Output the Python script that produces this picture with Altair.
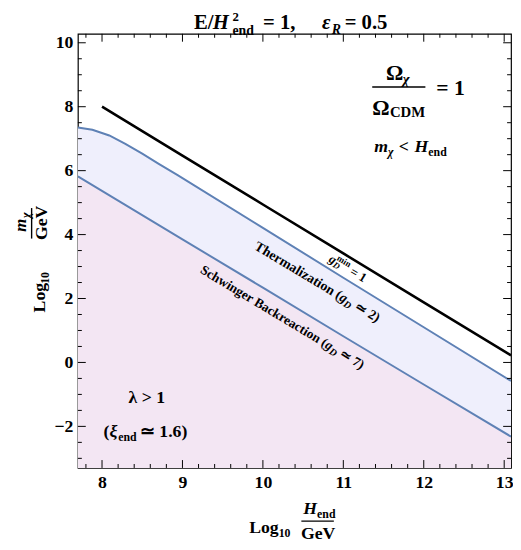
import math
import altair as alt
import pandas as pd

# ---------------- data ----------------
black_x = [8.0, 9.0, 10.0, 11.0, 12.0, 13.085]
black_y = [8.0, 6.47, 4.94, 3.41, 1.88, 0.22]

therm_x = [7.7, 7.88, 8.09, 8.29, 8.5, 8.7, 8.94, 10.0, 11.0, 12.0, 13.085]
therm_y = [7.35, 7.28, 7.10, 6.84, 6.53, 6.22, 5.86, 4.21, 2.65, 1.10, -0.58]

schw_x = [7.7, 9.0, 10.0, 11.0, 12.0, 13.085]
schw_y = [5.82, 3.85, 2.34, 0.82, -0.69, -2.32]

x_major = [8, 9, 10, 11, 12, 13]
y_major = [-2, 0, 2, 4, 6, 8, 10]
x_minor = [v for v in [round(7.8 + 0.2 * i, 2) for i in range(27)] if abs(v - round(v)) > 1e-6]
y_minor = [v for v in [-3.0 + 0.5 * i for i in range(27)] if v % 2 != 0]

X_DOM = [7.7, 13.085]
Y_DOM = [-3.3, 10.28]

# ---------------- layout ----------------
W, H = 440, 441
OX, OY = 79, 30          # page position of plot origin
SERIF = "Liberation Serif"
BLUE = "#5e81b5"

xs = alt.Scale(domain=X_DOM, nice=False, zero=False)
ys = alt.Scale(domain=Y_DOM, nice=False, zero=False)

x_axis = alt.Axis(values=x_major, ticks=False, domain=False, grid=False, title=None,
                  labelFont=SERIF, labelFontWeight="bold", labelFontSize=18,
                  labelPadding=6, labelColor="black", format="d")
y_axis = alt.Axis(values=y_major, ticks=False, domain=False, grid=False, title=None,
                  labelFont=SERIF, labelFontWeight="bold", labelFontSize=18,
                  labelPadding=5, labelColor="black", format="d")

df_black = pd.DataFrame({"x": black_x, "y": black_y})
df_therm = pd.DataFrame({"x": therm_x, "y": therm_y})
df_schw = pd.DataFrame({"x": schw_x, "y": schw_y})

area_therm = alt.Chart(df_therm).mark_area(color="#efeffc", clip=True).encode(
    x=alt.X("x:Q", scale=xs, axis=x_axis), y=alt.Y("y:Q", scale=ys, axis=y_axis),
    y2=alt.datum(Y_DOM[0]))
area_schw = alt.Chart(df_schw).mark_area(color="#f3e6f3", clip=True).encode(
    x=alt.X("x:Q", scale=xs), y=alt.Y("y:Q", scale=ys), y2=alt.datum(Y_DOM[0]))
line_therm = alt.Chart(df_therm).mark_line(color=BLUE, strokeWidth=2, clip=True).encode(
    x=alt.X("x:Q", scale=xs), y=alt.Y("y:Q", scale=ys))
line_schw = alt.Chart(df_schw).mark_line(color=BLUE, strokeWidth=2, clip=True).encode(
    x=alt.X("x:Q", scale=xs), y=alt.Y("y:Q", scale=ys))
line_black = alt.Chart(df_black).mark_line(color="black", strokeWidth=2.6, clip=True).encode(
    x=alt.X("x:Q", scale=xs), y=alt.Y("y:Q", scale=ys))

layers = [area_therm, area_schw, line_therm, line_schw, line_black]

# ---------------- frame ticks (inside) ----------------
def xticks(vals, length):
    d = pd.DataFrame({"v": vals})
    bot = alt.Chart(d).mark_rule(color="black", strokeWidth=1).encode(
        x=alt.X("v:Q", scale=xs), y=alt.value(H), y2=alt.value(H - length))
    top = alt.Chart(d).mark_rule(color="black", strokeWidth=1).encode(
        x=alt.X("v:Q", scale=xs), y=alt.value(0), y2=alt.value(length))
    return [bot, top]

def yticks(vals, length):
    d = pd.DataFrame({"v": vals})
    left = alt.Chart(d).mark_rule(color="black", strokeWidth=1).encode(
        y=alt.Y("v:Q", scale=ys), x=alt.value(0), x2=alt.value(length))
    right = alt.Chart(d).mark_rule(color="black", strokeWidth=1).encode(
        y=alt.Y("v:Q", scale=ys), x=alt.value(W), x2=alt.value(W - length))
    return [left, right]

layers += xticks(x_major, 8) + xticks(x_minor, 4) + yticks(y_major, 8) + yticks(y_minor, 4)

# ---------------- text helpers ----------------
ONE = pd.DataFrame({"a": [0]})

def txt(s, px, py, size, style="normal", align="left", angle=0, weight="bold"):
    return alt.Chart(ONE).mark_text(
        text=s, font=SERIF, fontSize=size, fontStyle=style, fontWeight=weight,
        align=align, baseline="alphabetic", angle=angle, color="black"
    ).encode(x=alt.value(px - OX), y=alt.value(py - OY))

def hbar(x1, x2, py, w=1.4):
    return alt.Chart(ONE).mark_rule(color="black", strokeWidth=w).encode(
        x=alt.value(x1 - OX), x2=alt.value(x2 - OX), y=alt.value(py - OY))

def vbar(px, y1, y2, w=1.4):
    return alt.Chart(ONE).mark_rule(color="black", strokeWidth=w).encode(
        x=alt.value(px - OX), y=alt.value(y1 - OY), y2=alt.value(y2 - OY))

def rot_txt(s, start, along, perp, size, angle, style="normal", align="left"):
    a = math.radians(angle)
    px = start[0] + along * math.cos(a) - perp * math.sin(a)
    py = start[1] + along * math.sin(a) + perp * math.cos(a)
    return txt(s, px, py, size, style=style, align=align, angle=angle)

# title
TB = 25
layers += [
    txt("E/", 197, TB, 21),
    txt("H", 216, TB, 21, style="italic"),
    txt("2", 236, TB - 8, 13),
    txt("end", 236, TB + 6, 14),
    txt("= 1,", 267, TB, 21),
    txt("\u03b5", 327, TB, 21, style="italic"),
    txt("R", 337, TB + 5, 14, style="italic"),
    txt("= 0.5", 350, TB, 21),
]

# y-axis title (rotated)
layers += [
    txt("Log", 46, 313, 18, angle=270),
    txt("10", 50, 284, 12, angle=270),
    txt("m", 26, 231, 17, style="italic", angle=270),
    txt("\u03c7", 30, 217, 12, style="italic", angle=270),
    vbar(32, 207, 238),
    txt("GeV", 48, 222, 18, angle=270, align="center"),
]

# x-axis title
layers += [
    txt("Log", 253, 537, 18),
    txt("10", 283, 541, 12),
    txt("H", 308, 518, 18, style="italic"),
    txt("end", 322, 522, 12),
    hbar(306, 339, 525),
    txt("GeV", 323, 543, 18, align="center"),
]

# Omega annotation
layers += [
    txt("\u03a9", 392, 77, 22),
    txt("\u03c7", 409, 81, 15, style="italic"),
    hbar(378, 432, 84, 1.6),
    txt("\u03a9", 378, 112, 22),
    txt("CDM", 396, 115, 15),
    txt("= 1", 443, 92, 22),
]

# m_chi < H_end
layers += [
    txt("m", 380, 150, 18, style="italic"),
    txt("\u03c7", 394, 154, 12, style="italic"),
    txt("<", 405, 150, 18),
    txt("H", 421, 150, 18, style="italic"),
    txt("end", 435, 154, 12),
]

# lambda
layers += [
    txt("\u03bb > 1", 149, 405, 18, align="center"),
    txt("(", 105, 440, 18),
    txt("\u03be", 111, 440, 18, style="italic"),
    txt("end", 120, 444, 12),
    txt("\u2243 1.6)", 142, 440, 18),
]

# rotated labels along the curves
ANG = 31
s_g = (333, 261)
layers += [
    rot_txt("g", s_g, 0, 0, 13, ANG, style="italic"),
    rot_txt("min", s_g, 6.5, -5.5, 9, ANG),
    rot_txt("D", s_g, 6.5, 2.5, 9, ANG, style="italic"),
    rot_txt("= 1", s_g, 25, 0, 13, ANG),
]
s_t = (252, 245)
A = 107
layers += [
    rot_txt("Thermalization (", s_t, A, 0, 14, ANG, align="right"),
    rot_txt("g", s_t, A, 0, 14, ANG, style="italic"),
    rot_txt("D", s_t, A + 7, 3, 10, ANG, style="italic"),
    rot_txt("\u2243 2)", s_t, A + 18, 0, 14, ANG),
]
s_s = (192, 266)
B = 160
layers += [
    rot_txt("Schwinger Backreaction (", s_s, B, 0, 13.5, ANG, align="right"),
    rot_txt("g", s_s, B, 0, 13.5, ANG, style="italic"),
    rot_txt("D", s_s, B + 7, 3, 10, ANG, style="italic"),
    rot_txt("\u2243 7)", s_s, B + 18, 0, 13.5, ANG),
]

chart = alt.layer(*layers).properties(
    width=W, height=H,
    padding={"left": 71, "top": 22, "right": 2, "bottom": 71},
    autosize=alt.AutoSizeParams(type="none"),
).configure_view(stroke="black", strokeWidth=1.2)

chart.save("out.html", embed_options={"renderer": "svg", "actions": False})
